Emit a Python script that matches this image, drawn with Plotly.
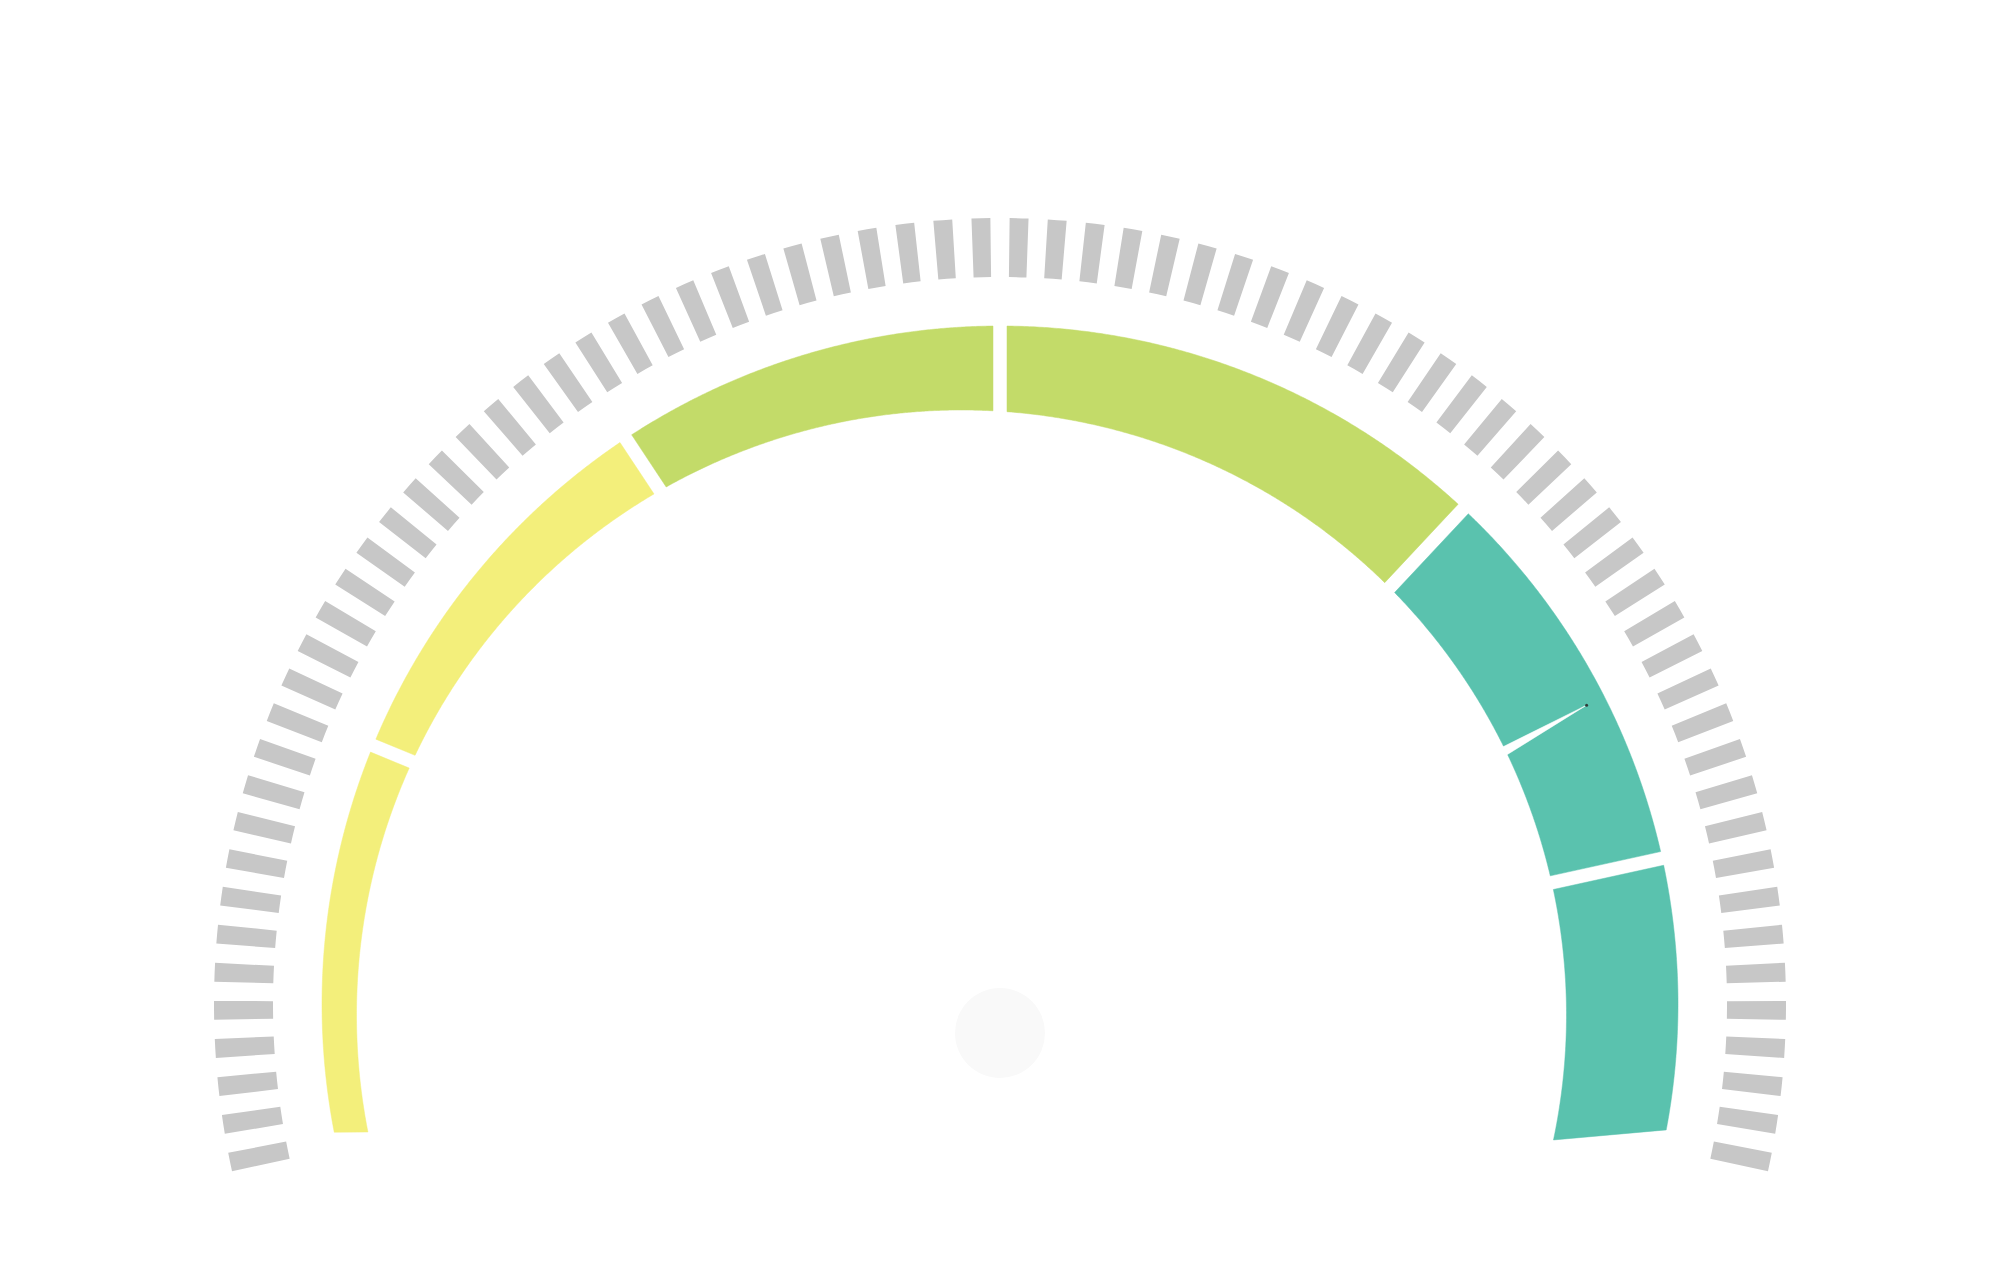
import numpy as np
import plotly.graph_objects as go

# ---------------- data ----------------
# gauge band boundaries (degrees, counter-clockwise from 3 o'clock), left -> right
segment_bounds_deg = [191.2, 157.6, 123.5, 90.0, 46.9, 12.4, -12.2]
segment_names = ["yellow-1", "yellow-2", "green-1", "green-2", "teal-1", "teal-2"]
segment_colors = ["#F3EF7B", "#F3EF7B", "#C3DB69", "#C3DB69", "#5AC2AE", "#5AC2AE"]

# outer scale ticks
tick_count = 74
tick_start_deg = 191.6
tick_end_deg = -11.6

# needle direction (degrees, measured at the pivot)
needle_angle_deg = 29.2

# ---------------- geometry / style ----------------
R_OUT = 678.0                 # outer edge of colored band
INNER_CENTER = (-38.5, -11.0) # inner edge circle center offset
INNER_RHO = 605.0             # inner edge circle radius
GAP_PX = 14.0
END_CUT = {"start_outer": 190.9, "start_inner": 191.45,
           "end_outer": -10.7, "end_inner": -13.8}
TICK_BASE = 727.0
TICK_LEN = 59.0
TICK_WIDTH_DEG = 1.38
TICK_COLOR = "#C7C7C7"
PIVOT = (0.0, -29.0)
PIVOT_SIZE = 90
PIVOT_COLOR = "#F9F9F9"
NEEDLE_LEN = 672.0


def r_inner(theta_deg):
    t = np.radians(theta_deg)
    cu = INNER_CENTER[0] * np.cos(t) + INNER_CENTER[1] * np.sin(t)
    c2 = INNER_CENTER[0] ** 2 + INNER_CENTER[1] ** 2
    return cu + np.sqrt(cu ** 2 - c2 + INNER_RHO ** 2)


def half_gap(r):
    return np.degrees(np.arcsin(GAP_PX / 2.0 / r))


fig = go.Figure()

# ticks
tick_theta = np.linspace(tick_start_deg, tick_end_deg, tick_count)
fig.add_trace(go.Barpolar(
    theta=tick_theta,
    r=[TICK_LEN] * tick_count,
    base=[TICK_BASE] * tick_count,
    width=[TICK_WIDTH_DEG] * tick_count,
    marker=dict(color=TICK_COLOR, line=dict(width=0)),
    hoverinfo="skip",
))

# band segments
n_seg = len(segment_bounds_deg) - 1
for i in range(n_seg):
    a = segment_bounds_deg[i]
    b = segment_bounds_deg[i + 1]
    if i == 0:
        ao, ai = END_CUT["start_outer"], END_CUT["start_inner"]
    else:
        ao = a - half_gap(R_OUT)
        ai = a - half_gap(float(r_inner(a)))
    if i == n_seg - 1:
        bo, bi = END_CUT["end_outer"], END_CUT["end_inner"]
    else:
        bo = b + half_gap(R_OUT)
        bi = b + half_gap(float(r_inner(b)))
    th_out = np.linspace(ao, bo, 200)
    th_in = np.linspace(bi, ai, 200)
    thetas = np.concatenate([th_out, th_in, [ao]])
    rs = np.concatenate([np.full_like(th_out, R_OUT), r_inner(th_in), [R_OUT]])
    fig.add_trace(go.Scatterpolar(
        r=rs, theta=thetas, mode="lines", fill="toself",
        fillcolor=segment_colors[i], line=dict(color=segment_colors[i], width=0.5),
        name=segment_names[i], hoverinfo="skip",
    ))

# needle (white, tapered)
u = np.array([np.cos(np.radians(needle_angle_deg)), np.sin(np.radians(needle_angle_deg))])
nrm = np.array([-u[1], u[0]])
P = np.array(PIVOT)
tip = P + NEEDLE_LEN * u
base_pt = P + 440.0 * u
hw = 11.0
pts = [base_pt + hw * nrm, tip, base_pt - hw * nrm, base_pt + hw * nrm]
fig.add_trace(go.Scatterpolar(
    r=[float(np.hypot(*p)) for p in pts],
    theta=[float(np.degrees(np.arctan2(p[1], p[0]))) for p in pts],
    mode="lines", fill="toself", fillcolor="white",
    line=dict(color="white", width=0.5), hoverinfo="skip",
))
fig.add_trace(go.Scatterpolar(
    r=[float(np.hypot(*tip))], theta=[float(np.degrees(np.arctan2(tip[1], tip[0])))],
    mode="markers", marker=dict(size=3, color="#2f3b38", symbol="circle"),
    hoverinfo="skip",
))

# pivot hub on its own small polar subplot centred at the pivot
fig.add_trace(go.Scatterpolar(
    r=[0], theta=[0], subplot="polar2",
    mode="markers", marker=dict(size=PIVOT_SIZE, color=PIVOT_COLOR, line=dict(width=0)),
    cliponaxis=False, hoverinfo="skip",
))

W, H = 2000, 1283
R_PX = 800.0
CX, CY = 992.0, 996.0
S = 20.0
top = CY - R_PX
bottom = CY + R_PX * np.sin(np.radians(S))
HX, HY = CX + PIVOT[0], CY - PIVOT[1]
HB = 60.0
fig.update_layout(
    width=W, height=H,
    margin=dict(l=0, r=0, t=0, b=0),
    paper_bgcolor="white",
    showlegend=False,
    polar=dict(
        domain=dict(x=[(CX - R_PX) / W, (CX + R_PX) / W],
                    y=[1 - bottom / H, 1 - top / H]),
        sector=[-S, 180 + S],
        bgcolor="rgba(0,0,0,0)",
        radialaxis=dict(range=[0, R_PX], visible=False, showgrid=False),
        angularaxis=dict(visible=False, showgrid=False, rotation=0,
                         direction="counterclockwise"),
        hole=0,
    ),
    polar2=dict(
        domain=dict(x=[(HX - HB) / W, (HX + HB) / W],
                    y=[1 - (HY + HB) / H, 1 - (HY - HB) / H]),
        bgcolor="rgba(0,0,0,0)",
        radialaxis=dict(range=[0, 1], visible=False, showgrid=False),
        angularaxis=dict(visible=False, showgrid=False),
    ),
)

fig.write_html("out.html")
